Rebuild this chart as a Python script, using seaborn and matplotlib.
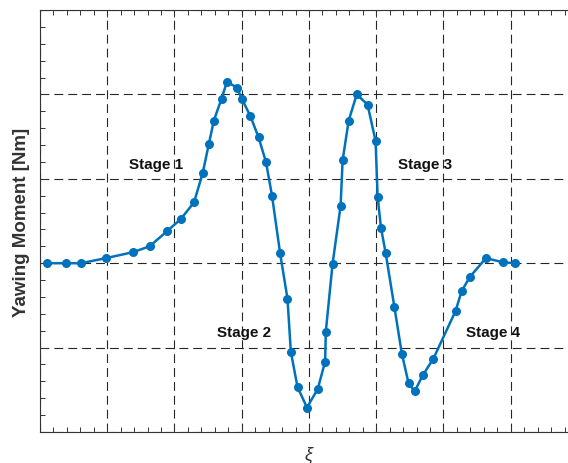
import numpy as np
import pandas as pd
import seaborn as sns
import matplotlib.pyplot as plt
from matplotlib.ticker import MultipleLocator, NullFormatter

# values (arbitrary units, no tick labels shown)
xi = [0.10, 0.39, 0.61, 0.98, 1.38, 1.63, 1.89, 2.09, 2.29, 2.42,
      2.51, 2.585, 2.70, 2.78, 2.93, 3.00, 3.13, 3.25, 3.36, 3.45,
      3.57, 3.68, 3.73, 3.83, 3.97, 4.13, 4.24, 4.25, 4.35, 4.47,
      4.50, 4.59, 4.71, 4.87, 4.99, 5.02, 5.07, 5.14, 5.27, 5.38,
      5.48, 5.57, 5.69, 5.85, 6.18, 6.27, 6.39, 6.63, 6.89, 7.07]
moment = [0.0, 0.0, 0.0, 0.06, 0.13, 0.20, 0.38, 0.52, 0.72, 1.07,
          1.41, 1.69, 1.95, 2.15, 2.08, 1.95, 1.74, 1.49, 1.20, 0.80,
          0.12, -0.42, -1.05, -1.47, -1.71, -1.49, -1.165, -0.81, -0.01, 0.68,
          1.22, 1.69, 2.00, 1.88, 1.45, 0.79, 0.42, 0.12, -0.52, -1.07,
          -1.42, -1.52, -1.33, -1.13, -0.565, -0.33, -0.165, 0.06, 0.01, 0.0]

stage_labels = ['Stage 1', 'Stage 2', 'Stage 3', 'Stage 4']
stage_x = [1.72, 3.03, 5.73, 6.73]
stage_y = [1.18, -0.81, 1.18, -0.81]

df = pd.DataFrame({'xi': xi, 'moment': moment})

sns.set_style('white')
plt.rcParams['font.family'] = ['Liberation Sans', 'DejaVu Sans']

fig = plt.figure(figsize=(5.68, 4.64), dpi=100)
ax = fig.add_axes([40 / 568, 31 / 464, 538 / 568, 422 / 464])

sns.lineplot(data=df, x='xi', y='moment', ax=ax, estimator=None, sort=False,
             color='#0072BD', linewidth=1.8, marker='o', markersize=6.5,
             markeredgewidth=0)

for lab, tx, ty in zip(stage_labels, stage_x, stage_y):
    ax.text(tx, ty, lab, ha='center', va='center', fontsize=11,
            fontweight='bold', color='#111111', zorder=1)

ax.set_xlim(0, 8)
ax.set_ylim(-2, 3)
ax.xaxis.set_major_locator(MultipleLocator(1))
ax.xaxis.set_minor_locator(MultipleLocator(0.2))
ax.yaxis.set_major_locator(MultipleLocator(1))
ax.yaxis.set_minor_locator(MultipleLocator(0.2))
ax.xaxis.set_major_formatter(NullFormatter())
ax.yaxis.set_major_formatter(NullFormatter())
ax.tick_params(which='both', direction='in', top=True, right=True,
               bottom=True, left=True, color='#333333', width=0.7)
ax.tick_params(which='major', length=5)
ax.tick_params(which='minor', length=3.5)

ax.grid(True, which='major', color='#262626', linestyle=(0, (8, 4.5)),
        linewidth=0.8)
ax.set_axisbelow(True)

for sp in ax.spines.values():
    sp.set_color('#333333')
    sp.set_linewidth(0.8)

ax.set_xlabel('ξ', fontsize=13, fontstyle='italic', color='#333333',
              labelpad=6)
ax.set_ylabel('Yawing Moment [Nm]', fontsize=13.5, fontweight='bold',
              color='#333333', labelpad=4)

fig.savefig('out.png', dpi=100)
